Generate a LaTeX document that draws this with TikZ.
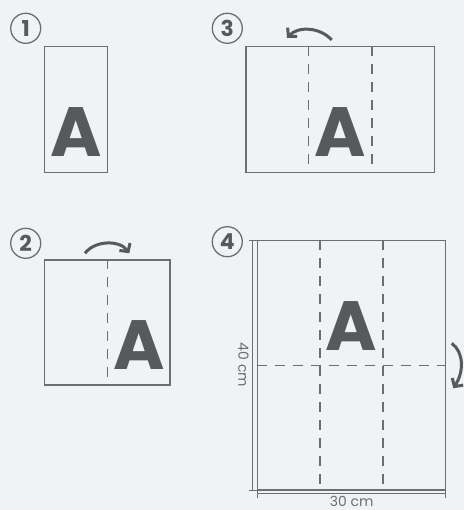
\documentclass[tikz,border=0pt]{standalone}
\usepackage{fontspec}
\setmainfont{Poppins}
\usetikzlibrary{arrows.meta,calc}
\definecolor{paper}{HTML}{F1F2F4}
\definecolor{edge}{HTML}{6D6E71}
\definecolor{ink}{HTML}{58595B}

\begin{document}
\begin{tikzpicture}[x=1bp,y=-1bp,
  sheet/.style={draw=edge,line width=1.5bp,rectangle,inner sep=0pt},
  fold/.style={draw=edge,line width=1.4bp,dash pattern=on 10bp off 8bp},
  num/.style={circle,draw=edge,line width=1.3bp,minimum size=30bp,inner sep=0pt,text=ink,font=\bfseries\fontsize{22}{22}\selectfont},
  big/.style={inner sep=0pt,anchor=base,text=ink,font=\bfseries\fontsize{70}{70}\selectfont},
  turn/.style={draw=ink,line width=3bp,-{Straight Barb[length=6bp,width=13bp]}},
  dim/.style={draw=edge,line width=1.2bp,{Bar[width=8bp]}-{Bar[width=8bp]}},
  lab/.style={text=edge,inner sep=0pt,font=\fontsize{14}{14}\selectfont}]
\fill[paper] (0,0) rectangle (464,510);
\useasboundingbox (0,0) rectangle (464,510);
% ---------- Step 1: folded strip ----------
\node[num] (n1) at (25.7,28.3) {1};
\node[sheet,minimum width=63bp,minimum height=125.6bp] (s1) at (75.8,109.5) {};
\node[big] (a1) at (76.2,156.7) {A};
% ---------- Step 2: unfold to the right ----------
\node[num] (n2) at (25.7,243.3) {2};
\node[sheet,minimum width=125.7bp,minimum height=125bp] (s2) at (107.2,322.5) {};
\draw[fold] (s2.north) -- (s2.south);
\node[big] (a2) at (138.8,369.3) {A};
\draw[turn] (85,253.3) .. controls (95,240) and (120,240) .. (129.3,253.3);
% ---------- Step 3: unfold to the left ----------
\node[num] (n3) at (227.3,28.3) {3};
\node[sheet,minimum width=188.3bp,minimum height=125.6bp] (s3) at (340.2,109.5) {};
\draw[fold] ($(s3.north west)!1/3!(s3.north east)$) -- ($(s3.south west)!1/3!(s3.south east)$);
\draw[fold] ($(s3.north west)!2/3!(s3.north east)$) -- ($(s3.south west)!2/3!(s3.south east)$);
\node[big] (a3) at (340.5,157) {A};
\draw[turn] (331.7,40) .. controls (320,27) and (298,26) .. (287,38);
% ---------- Step 4: full sheet ----------
\node[num] (n4) at (227.3,241.7) {4};
\node[sheet,minimum width=188.4bp,minimum height=249.3bp] (s4) at (351.5,365.4) {};
\draw[fold] ($(s4.north west)!1/3!(s4.north east)$) -- ($(s4.south west)!1/3!(s4.south east)$);
\draw[fold] ($(s4.north west)!2/3!(s4.north east)$) -- ($(s4.south west)!2/3!(s4.south east)$);
\draw[fold] (s4.west) -- (s4.east);
\node[big] (a4) at (351.3,350) {A};
\draw[turn] (451.7,343.3) .. controls (464,352) and (464,372) .. (453.3,388.3);
% dimensions
\draw[dim] ($(s4.north west)+(-4,0)$) -- ($(s4.south west)+(-4,0)$);
\draw[dim] ($(s4.south west)+(0,2.7)$) -- ($(s4.south east)+(0,2.7)$);
\node[lab,rotate=-90] (h4) at (243.5,365) {40 cm};
\node[lab,anchor=base] (w4) at (351.7,506.5) {30 cm};
\end{tikzpicture}
\end{document}
